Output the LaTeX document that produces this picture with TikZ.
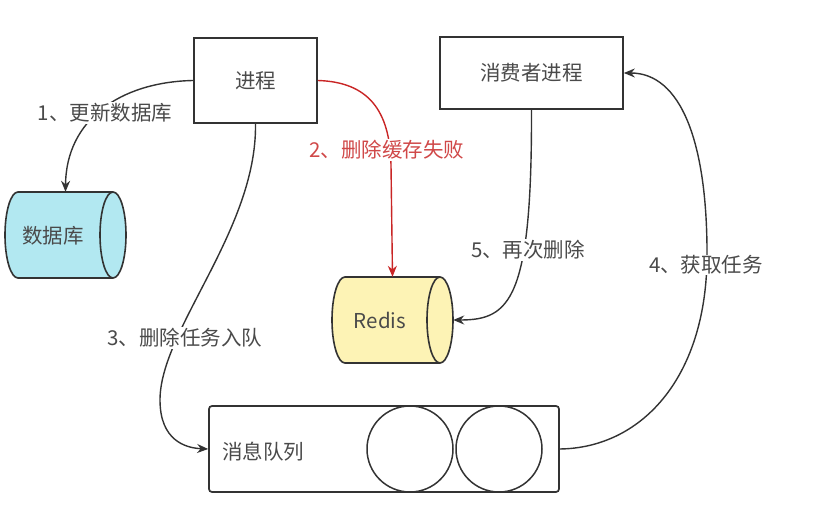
\documentclass[tikz,border=0pt]{standalone}
\usepackage{fontspec}
\setmainfont{Noto Sans CJK SC}
\usetikzlibrary{shapes.geometric,arrows.meta}
\definecolor{ink}{HTML}{333333}
\definecolor{txt}{HTML}{4A4A4A}
\definecolor{redl}{HTML}{C92525}
\definecolor{redt}{HTML}{D04848}
\definecolor{dbfill}{HTML}{B2E8F1}
\definecolor{rdfill}{HTML}{FDF3B5}
\tikzset{
  every node/.style={font=\fontsize{20.5}{24}\selectfont, text=txt},
  box/.style={draw=ink, line width=1.7pt, rectangle, inner sep=0pt},
  anchorbox/.style={rectangle, inner sep=0pt, minimum width=121pt, minimum height=86pt},
  cylline/.style={draw=ink, line width=1.6pt},
  ball/.style={draw=ink, line width=1.5pt, circle, minimum size=86pt, inner sep=0pt},
  conn/.style={draw=ink, line width=1.4pt, -{Stealth[length=11pt,width=9pt]}},
  redconn/.style={draw=redl, line width=1.4pt, -{Stealth[length=11pt,width=9pt]}},
  lbl/.style={fill=white, inner sep=1pt},
}
% horizontal cylinder: #1 left x, #2 top y, #3 fill ; width 121, height 86, end radius 13
\newcommand{\mycyl}[3]{%
  \path[cylline, fill=#3] (#1+13,#2) -- (#1+108,#2)
     arc[start angle=-90, end angle=90, x radius=13, y radius=43]
     -- (#1+13,#2+86)
     arc[start angle=90, end angle=270, x radius=13, y radius=43] -- cycle;
  \draw[cylline] (#1+108,#2) arc[start angle=-90, end angle=-270, x radius=13, y radius=43];
}
\begin{document}
\begin{tikzpicture}[x=1pt,y=-1pt]
\useasboundingbox[fill=white] (0,0) rectangle (823,518);
% nodes
\node[box, minimum width=123pt, minimum height=85pt] (p) at (255.5,80.5) {进程};
\node[box, minimum width=183pt, minimum height=72pt] (c) at (531.5,73) {消费者进程};
\mycyl{5}{192}{dbfill}
\node[anchorbox] (d) at (65.5,235) {};
\node (dt) at (53,236) {数据库};
\mycyl{332}{277}{rdfill}
\node[anchorbox] (r) at (392.5,320) {};
\node (rt) at (380,320) {Redis};
\node[box, rounded corners=3pt, minimum width=350pt, minimum height=86pt] (q) at (384,449) {};
\node[ball] (b1) at (410,449) {};
\node[ball] (b2) at (499,449) {};
\node (qt) at (263,452) {消息队列};
% connectors
\draw[conn] (p.west) .. controls (120,82) and (66,120) .. (d.north);
\draw[redconn] (p.east) .. controls (368,82) and (390,110) .. (391,165) -- (r.north);
\draw[conn] (p.south) .. controls (257,230) and (160,330) .. (160,400) .. controls (160,440) and (185,448) .. (q.west);
\draw[conn] (c.south) .. controls (532,300) and (510,320) .. (r.east);
\draw[conn] (q.east) .. controls (640,448) and (705,380) .. (707,260) .. controls (708,140) and (680,73) .. (c.east);
% labels
\node[lbl] (l1) at (105,113) {1、更新数据库};
\node[lbl, text=redt] (l2) at (387,150) {2、删除缓存失败};
\node[lbl] (l3) at (185,338) {3、删除任务入队};
\node[lbl] (l5) at (528,250) {5、再次删除};
\node[lbl] (l4) at (706,265) {4、获取任务};
\end{tikzpicture}
\end{document}
